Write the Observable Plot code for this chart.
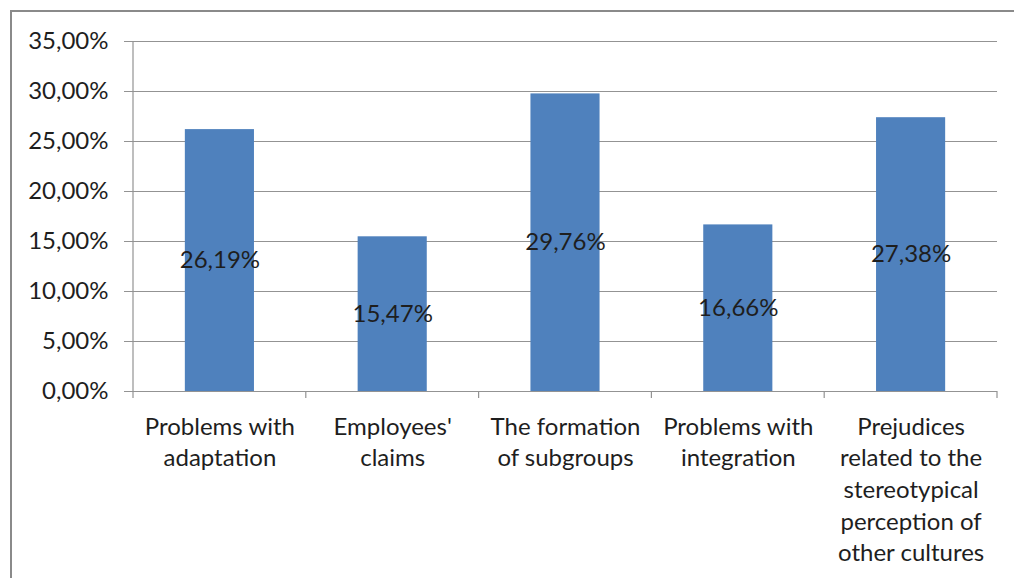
<!DOCTYPE html>
<html><head><meta charset="utf-8">
<script src="https://cdn.jsdelivr.net/npm/d3@7"></script>
<script src="https://cdn.jsdelivr.net/npm/@observablehq/plot@0.6"></script>
<style>
html,body{margin:0;padding:0;background:#fff;}
#wrap{position:relative;width:1014px;height:578px;overflow:hidden;}
#border{position:absolute;left:10px;top:10px;width:1100px;height:700px;border:2px solid #8a8a8a;box-sizing:border-box;}
#chart{position:absolute;left:0;top:0;}
</style></head><body>
<div id="wrap"><div id="border"></div><div id="chart"></div></div>
<script>
const categories = [
  "Problems with\nadaptation",
  "Employees'\nclaims",
  "The formation\nof subgroups",
  "Problems with\nintegration",
  "Prejudices\nrelated to the\nstereotypical\nperception of\nother cultures"
];
const values = [26.19, 15.47, 29.76, 16.66, 27.38];
const yTicks = [0, 5, 10, 15, 20, 25, 30, 35];

const data = categories.map((c, i) => ({category: c, value: values[i]}));
const fmt = d => d.toFixed(2).replace(".", ",") + "%";
const FONT = "Lato, 'Open Sans', sans-serif";
const GRID = "#939393";
const TXT = "#1e1e1e";

function frameLines(index, scales, vals, dims) {
  const x = scales.x, y = scales.y;
  const step = x(categories[1]) - x(categories[0]);
  const y0 = y(0), yTop = y(yTicks[yTicks.length - 1]);
  const g = d3.create("svg:g").attr("stroke", GRID).attr("stroke-width", 1.2);
  for (let i = 0; i <= categories.length; i++) {
    const px = dims.marginLeft + i * step;
    g.append("line")
      .attr("x1", px).attr("x2", px)
      .attr("y1", i === 0 ? yTop : y0).attr("y2", y0 + 7);
  }
  return g.node();
}

const chart = Plot.plot({
  width: 1014,
  height: 578,
  marginLeft: 133,
  marginRight: 17,
  marginTop: 41,
  marginBottom: 187,
  style: {fontFamily: FONT, background: "transparent", overflow: "visible"},
  x: {domain: categories, paddingInner: 0.6, paddingOuter: 0.3, round: false, axis: null},
  y: {domain: [0, 35], axis: null},
  marks: [
    Plot.gridY(yTicks, {stroke: GRID, strokeOpacity: 1, strokeWidth: 1.2}),
    Plot.axisY(yTicks, {
      tickSize: 9, tickPadding: 16, tickFormat: fmt, stroke: GRID,
      fontSize: 24, fill: TXT, label: null
    }),
    Plot.barY(data, {x: "category", y: "value", fill: "#4F81BD"}),
    frameLines,
    Plot.text(data, {
      x: "category", y: d => d.value / 2, text: d => fmt(d.value),
      fontSize: 24, fill: TXT
    }),
    Plot.text(data, {
      x: "category", y: () => 0, text: "category",
      lineAnchor: "top", dy: 21, lineHeight: 1.315,
      fontSize: 24, fill: TXT
    })
  ]
});
document.getElementById("chart").appendChild(chart);
</script>
</body></html>
